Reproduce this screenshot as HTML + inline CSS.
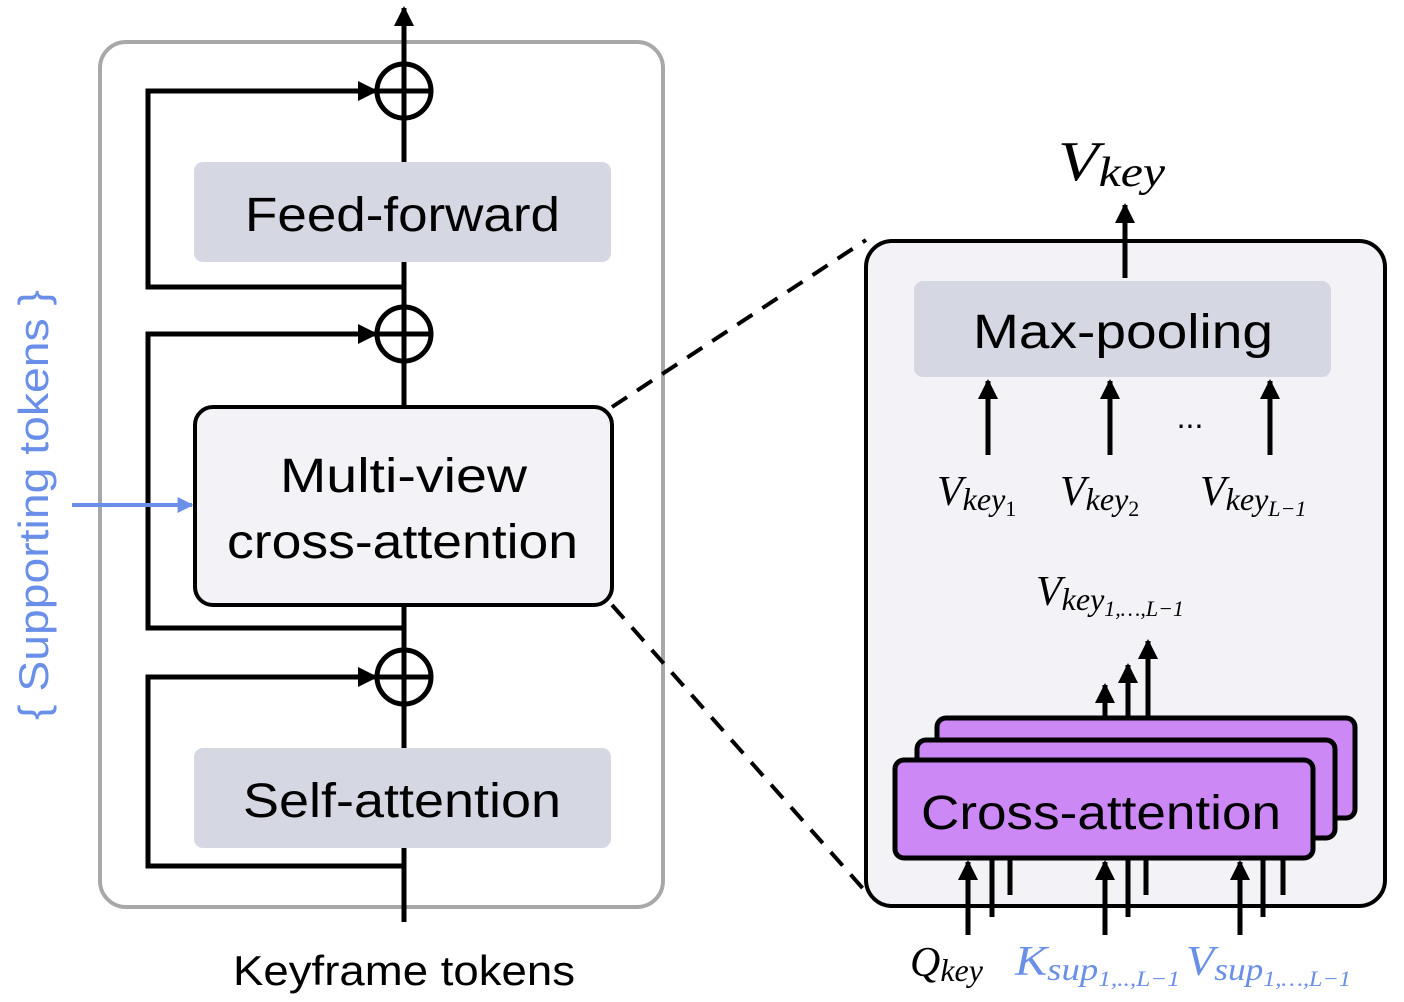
<!DOCTYPE html>
<html><head><meta charset="utf-8"><style>
html,body{margin:0;padding:0;background:#fff;}
svg{display:block;}
.s{font-family:"Liberation Sans","Noto Sans CJK SC",sans-serif;}
.m{font-family:"Liberation Serif","DejaVu Serif",serif;font-style:italic;}
</style></head><body>
<svg width="1404" height="1002" viewBox="0 0 1404 1002" xmlns="http://www.w3.org/2000/svg">
<defs>
<marker id="a" viewBox="0 0 10 10" refX="9" refY="5" markerWidth="4" markerHeight="4" orient="auto" markerUnits="strokeWidth"><path d="M0,0 L10,5 L0,10 z" fill="#000"/></marker>
<marker id="b" viewBox="0 0 10 10" refX="9" refY="5" markerWidth="4" markerHeight="4" orient="auto" markerUnits="strokeWidth"><path d="M0,0 L10,5 L0,10 z" fill="#6a8fe8"/></marker>
</defs>
<rect x="100" y="42" width="563" height="865" rx="26" fill="#fff" stroke="#a8a8a8" stroke-width="4"/>
<g stroke="#000" stroke-width="5" fill="none">
<line x1="404" y1="922" x2="404" y2="8" marker-end="url(#a)"/>
<polyline points="404,287 148,287 148,91 376,91" marker-end="url(#a)"/>
<polyline points="404,628 148,628 148,334 376,334" marker-end="url(#a)"/>
<polyline points="404,866 148,866 148,677 376,677" marker-end="url(#a)"/>
<circle cx="404" cy="91" r="27" fill="#fff"/><line x1="377" y1="91" x2="431" y2="91"/>
<circle cx="404" cy="334" r="27" fill="#fff"/><line x1="377" y1="334" x2="431" y2="334"/>
<circle cx="404" cy="677" r="27" fill="#fff"/><line x1="377" y1="677" x2="431" y2="677"/>
<line x1="404" y1="64" x2="404" y2="118"/><line x1="404" y1="307" x2="404" y2="361"/><line x1="404" y1="650" x2="404" y2="704"/>
</g>
<rect x="194" y="162" width="417" height="100" rx="9" fill="#d5d7e3"/>
<text x="245" y="231" class="s" font-size="48" textLength="315" lengthAdjust="spacingAndGlyphs">Feed-forward</text>
<rect x="194" y="748" width="417" height="100" rx="9" fill="#d5d7e3"/>
<text x="243" y="817" class="s" font-size="48" textLength="318" lengthAdjust="spacingAndGlyphs">Self-attention</text>
<rect x="195" y="407" width="417" height="198" rx="18" fill="#f3f3f7" stroke="#000" stroke-width="4"/>
<text x="280" y="492" class="s" font-size="48" textLength="247" lengthAdjust="spacingAndGlyphs">Multi-view</text>
<text x="227" y="558" class="s" font-size="48" textLength="351" lengthAdjust="spacingAndGlyphs">cross-attention</text>
<line x1="72" y1="505" x2="192" y2="505" stroke="#6a8fe8" stroke-width="4" marker-end="url(#b)"/>
<text transform="translate(48,505) rotate(-90)" class="s" font-size="42" fill="#6a8fe8" text-anchor="middle" textLength="430" lengthAdjust="spacingAndGlyphs">{ Supporting tokens }</text>
<text x="233" y="985" class="s" font-size="42" textLength="342" lengthAdjust="spacingAndGlyphs">Keyframe tokens</text>
<g stroke="#000" stroke-width="4" stroke-dasharray="18,12">
<line x1="612" y1="407" x2="866" y2="240"/>
<line x1="612" y1="605" x2="866" y2="892"/>
</g>
<rect x="866" y="241" width="519" height="665" rx="26" fill="#f3f3f7" stroke="#000" stroke-width="4"/>
<rect x="914" y="281" width="417" height="96" rx="9" fill="#d5d7e3"/>
<text x="973" y="348" class="s" font-size="48" textLength="300" lengthAdjust="spacingAndGlyphs">Max-pooling</text>
<g stroke="#000" stroke-width="5" fill="none">
<line x1="1125" y1="278" x2="1125" y2="205" marker-end="url(#a)"/>
<line x1="988" y1="455" x2="988" y2="381" marker-end="url(#a)"/>
<line x1="1110" y1="455" x2="1110" y2="381" marker-end="url(#a)"/>
<line x1="1270" y1="455" x2="1270" y2="381" marker-end="url(#a)"/>
<line x1="1105" y1="760" x2="1105" y2="685" marker-end="url(#a)"/>
<line x1="1128" y1="740" x2="1128" y2="665" marker-end="url(#a)"/>
<line x1="1148" y1="720" x2="1148" y2="641" marker-end="url(#a)"/>
</g>
<text x="1190" y="428" class="s" font-size="32" text-anchor="middle">...</text>
<text x="1058" y="180" class="m" font-size="56" textLength="107" lengthAdjust="spacingAndGlyphs">V<tspan font-size="42" dy="6">key</tspan></text>
<text x="937" y="505" class="m" font-size="42">V<tspan font-size="32" dy="5">key</tspan><tspan font-size="22" dy="6" font-style="normal">1</tspan></text>
<text x="1060" y="505" class="m" font-size="42">V<tspan font-size="32" dy="5">key</tspan><tspan font-size="22" dy="6" font-style="normal">2</tspan></text>
<text x="1200" y="505" class="m" font-size="42">V<tspan font-size="32" dy="5">key</tspan><tspan font-size="22" dy="6">L−1</tspan></text>
<text x="1036" y="605" class="m" font-size="42">V<tspan font-size="32" dy="5">key</tspan><tspan font-size="22" dy="6">1,…,L−1</tspan></text>
<rect x="937" y="718" width="418" height="100" rx="9" fill="#cc88f5" stroke="#000" stroke-width="5"/>
<rect x="917" y="740" width="418" height="98" rx="9" fill="#cc88f5" stroke="#000" stroke-width="5"/>
<rect x="895" y="760" width="418" height="98" rx="9" fill="#cc88f5" stroke="#000" stroke-width="5"/>
<text x="921" y="829" class="s" font-size="48" textLength="360" lengthAdjust="spacingAndGlyphs">Cross-attention</text>
<g stroke="#000" stroke-width="5" fill="none">
<line x1="968" y1="935" x2="968" y2="862" marker-end="url(#a)"/>
<line x1="1105" y1="935" x2="1105" y2="862" marker-end="url(#a)"/>
<line x1="1240" y1="935" x2="1240" y2="862" marker-end="url(#a)"/>
<line x1="992" y1="860" x2="992" y2="917"/>
<line x1="1128" y1="860" x2="1128" y2="917"/>
<line x1="1263" y1="860" x2="1263" y2="917"/>
<line x1="1010" y1="860" x2="1010" y2="895"/>
<line x1="1146" y1="860" x2="1146" y2="895"/>
<line x1="1283" y1="860" x2="1283" y2="895"/>
</g>
<text x="910" y="976" class="m" font-size="42">Q<tspan font-size="32" dy="5">key</tspan></text>
<text x="1015" y="975" class="m" font-size="42" fill="#6a8fe8" textLength="165" lengthAdjust="spacingAndGlyphs">K<tspan font-size="32" dy="5">sup</tspan><tspan font-size="22" dy="6">1,..,L−1</tspan></text>
<text x="1186" y="975" class="m" font-size="42" fill="#6a8fe8" textLength="165" lengthAdjust="spacingAndGlyphs">V<tspan font-size="32" dy="5">sup</tspan><tspan font-size="22" dy="6">1,…,L−1</tspan></text>
</svg>
</body></html>
